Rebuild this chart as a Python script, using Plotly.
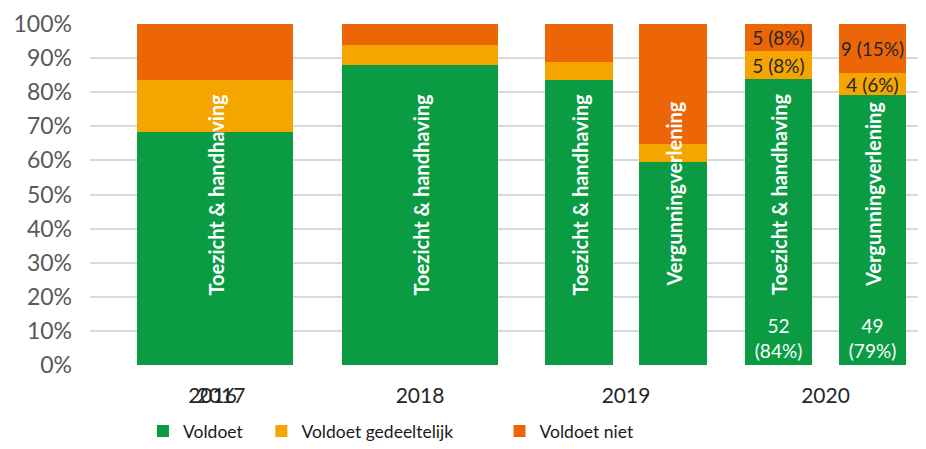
import plotly.graph_objs as go

# data (percentages, counts only where printed)
years = ["2016", "2017", "2018", "2019", "2020"]
themes = ["Toezicht & handhaving", "Toezicht & handhaving", "Toezicht & handhaving",
          "Vergunningverlening", "Toezicht & handhaving", "Vergunningverlening"]
voldoet = [68.4, 88.0, 83.6, 59.6, 83.9, 79.1]
gedeeltelijk = [15.2, 5.8, 5.3, 5.2, 8.1, 6.4]
niet = [16.4, 6.2, 11.1, 35.2, 8.0, 14.5]
n_voldoet = [None, None, None, None, 52, 49]
n_gedeeltelijk = [None, None, None, None, 5, 4]
n_niet = [None, None, None, None, 5, 9]

# layout of the bars on the x axis (pixel-like units)
bar_pos = [215, 420, 579, 673, 778.5, 872.5]
bar_width = [156, 156, 67.5, 67.5, 67, 67]
year_pos = [212.5, 221, 420, 626, 825.5]

green = "#0B9B43"
yellow = "#F5A500"
orange = "#EC6608"
font = "Lato"


def labels(counts, pcts, sep):
    out = []
    for c, p in zip(counts, pcts):
        out.append("" if c is None else f"{c}{sep}({int(p + 0.5)}%)")
    return out


series = [
    ("Voldoet", voldoet, green, labels(n_voldoet, voldoet, "<br>"), "white", "start", "legend"),
    ("Voldoet gedeeltelijk", gedeeltelijk, yellow, labels(n_gedeeltelijk, gedeeltelijk, " "), "#262626", "middle", "legend2"),
    ("Voldoet niet", niet, orange, labels(n_niet, niet, " "), "#262626", "middle", "legend3"),
]

fig = go.Figure()
for name, vals, col, txt, tcol, anchor, leg in series:
    fig.add_trace(go.Bar(
        name=name, x=bar_pos, y=vals, width=bar_width,
        marker=dict(color=col, line=dict(width=0)),
        text=txt, textposition="inside", insidetextanchor=anchor,
        textangle=0, constraintext="none",
        textfont=dict(family=font, size=19, color=tcol),
        legend=leg, showlegend=True, hoverinfo="skip",
    ))

annotations = []
for x, t in zip(bar_pos, themes):
    annotations.append(dict(text=t, x=x, y=50, xref="x", yref="y", showarrow=False,
                            textangle=-90,
                            font=dict(family=font, size=20, color="white", weight="bold")))

# the page body adds 8px around the figure, so the figure is 16px smaller
leg_font = dict(family=font, size=17.5, color="#1a1a1a")
leg_y = -0.194
fig.update_layout(
    width=910, height=433,
    margin=dict(l=82, r=0, t=16, b=76, autoexpand=False),
    barmode="stack",
    plot_bgcolor="white", paper_bgcolor="white",
    annotations=annotations,
    showlegend=True,
    legend=dict(orientation="h", x=0.064, y=leg_y, xanchor="left", yanchor="middle", font=leg_font),
    legend2=dict(orientation="h", x=0.207, y=leg_y, xanchor="left", yanchor="middle", font=leg_font),
    legend3=dict(orientation="h", x=0.4946, y=leg_y, xanchor="left", yanchor="middle", font=leg_font),
    xaxis=dict(range=[90, 918], tickvals=year_pos, ticktext=years, showgrid=False,
               zeroline=False, showline=False, ticks="", ticklabelstandoff=16,
               tickangle=0, automargin=False,
               tickfont=dict(family=font, size=21, color="#262626")),
    yaxis=dict(range=[0, 100], dtick=10, ticksuffix="%", showgrid=True, gridcolor="#D9D9D9",
               gridwidth=1.5, zeroline=False, showline=False, ticks="", ticklabelstandoff=17,
               automargin=False,
               tickfont=dict(family=font, size=23, color="#595959")),
)

fig.write_html("out.html")
